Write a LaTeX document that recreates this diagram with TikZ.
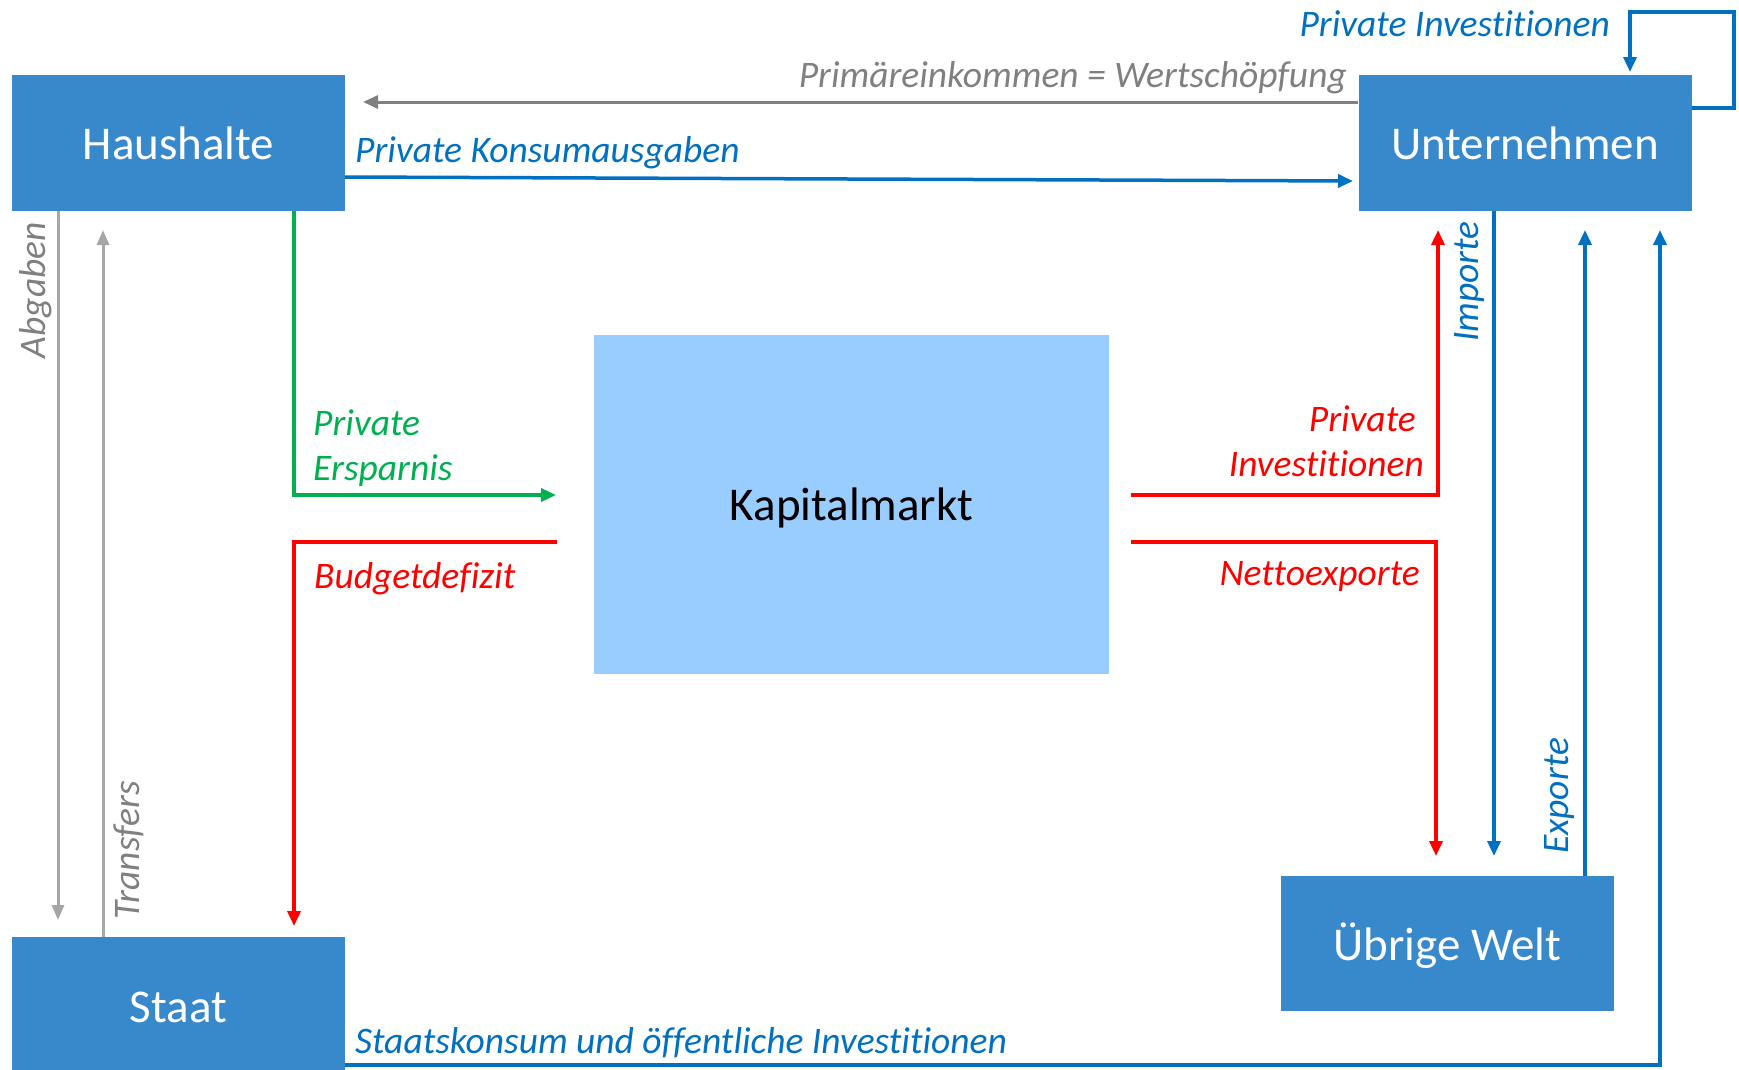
\documentclass[tikz,border=0pt]{standalone}
\usepackage{fontspec}
\setmainfont{Carlito}[Ligatures=NoCommon]
\usetikzlibrary{arrows.meta,calc}
\definecolor{boxblue}{RGB}{55,137,203}
\definecolor{lineblue}{RGB}{0,112,192}
\definecolor{kmblue}{RGB}{153,204,255}
\definecolor{dgray}{RGB}{128,128,128}
\definecolor{lgray}{RGB}{166,166,166}
\definecolor{flowgreen}{RGB}{0,176,80}
\definecolor{flowred}{RGB}{255,0,0}
\begin{document}
\begin{tikzpicture}[x=1pt,y=-1pt,
  sector/.style={fill=boxblue, text=white, inner sep=0pt, minimum width=333pt,
    font=\fontsize{47}{56}\selectfont},
  flow/.style={line width=3.5pt, -{Triangle[width=13pt,length=15pt]}},
  grayflow/.style={line width=3pt, lgray, -{Triangle[width=12pt,length=15pt]}},
  lbl/.style={font=\fontsize{37.5}{45}\selectfont\itshape, inner sep=0pt},
]
\useasboundingbox (0,0) rectangle (1739,1069);
\fill[white] (0,0) rectangle (1739,1069);

% sectors
\node[sector, minimum height=136pt] (H) at (178.5,143) {Haushalte};
\node[sector, minimum height=136pt] (U) at (1525,143) {Unternehmen};
\node[sector, minimum height=134pt] (S) at (178.5,1004) {\raisebox{-18pt}[0pt][0pt]{Staat}};
\node[sector, minimum height=135pt, text depth=4.5pt] (W) at (1447.5,943.5) {Übrige Welt};
\node[fill=kmblue, minimum width=515pt, minimum height=339pt, inner sep=0pt,
  text depth=0pt, font=\fontsize{47}{56}\selectfont] (K) at (851.5,504.5) {Kapitalmarkt};

% coordinates
\coordinate (primEnd) at (363,102);
\coordinate (konsEnd) at (1353,181);
\coordinate (pi1) at (1734,108);
\coordinate (pi2) at (1734,12);
\coordinate (pi3) at (1630,12);
\coordinate (piEnd) at (1630,72);
\coordinate (abgEnd) at (58,920);
\coordinate (trEnd) at (103,230);
\coordinate (g1) at (294,495);
\coordinate (gEnd) at (556,495);
\coordinate (bStart) at (557,542);
\coordinate (b1) at (294,542);
\coordinate (bEnd) at (294,926);
\coordinate (rStart) at (1131,495);
\coordinate (r1) at (1438,495);
\coordinate (rEnd) at (1438,230);
\coordinate (nStart) at (1131,542);
\coordinate (n1) at (1436,542);
\coordinate (nEnd) at (1436,856);
\coordinate (impEnd) at (1494,856);
\coordinate (expEnd) at (1585,230);
\coordinate (st1) at (1660,1065);
\coordinate (stEnd) at (1660,230);

% connectors
\draw[flow, dgray, line width=3pt] (U.west |- primEnd) -- (primEnd);
\draw[flow, lineblue] ($(H.east)+(0,34)$) -- (konsEnd);
\draw[flow, lineblue] (U.east |- pi1) -- (pi1) -- (pi2) -- (pi3) -- (piEnd);
\draw[grayflow] (H.south -| abgEnd) -- (abgEnd);
\draw[grayflow] (S.north -| trEnd) -- (trEnd);
\draw[flow, flowgreen] (H.south -| g1) -- (g1) -- (gEnd);
\draw[flow, flowred] (bStart) -- (b1) -- (bEnd);
\draw[flow, flowred] (rStart) -- (r1) -- (rEnd);
\draw[flow, flowred] (nStart) -- (n1) -- (nEnd);
\draw[flow, lineblue] (U.south -| impEnd) -- (impEnd);
\draw[flow, lineblue] (W.north -| expEnd) -- (expEnd);
\draw[flow, lineblue] (S.east |- st1) -- (st1) -- (stEnd);

% labels
\node[lbl, text=dgray, anchor=base east] (lPrim) at (1347,87) {Primäreinkommen = Wertschöpfung};
\node[lbl, text=lineblue, anchor=base west] (lKons) at (355,162) {Private Konsumausgaben};
\node[lbl, text=lineblue, anchor=base east] (lPI) at (1610,36) {Private Investitionen};
\node[lbl, text=dgray, rotate=90, anchor=base east] (lAbg) at (45,222) {Abgaben};
\node[lbl, text=dgray, rotate=90, anchor=base west] (lTr) at (139,920) {Transfers};
\node[lbl, text=flowgreen, anchor=north west, align=left] (lSpar) at (313,409) {Private\\Ersparnis};
\node[lbl, text=flowred, anchor=base west] (lBud) at (314,588) {Budgetdefizit};
\node[lbl, text=flowred, anchor=north east, align=right] (lRPI) at (1424,405) {Private\kern8pt\\Investitionen};
\node[lbl, text=flowred, anchor=base east] (lNet) at (1420,585) {Nettoexporte};
\node[lbl, text=lineblue, rotate=90, anchor=base east] (lImp) at (1478,221) {Importe};
\node[lbl, text=lineblue, rotate=90, anchor=base west] (lExp) at (1568,854) {Exporte};
\node[lbl, text=lineblue, anchor=base west] (lSt) at (355,1053) {Staatskonsum und öffentliche Investitionen};
\end{tikzpicture}
\end{document}
